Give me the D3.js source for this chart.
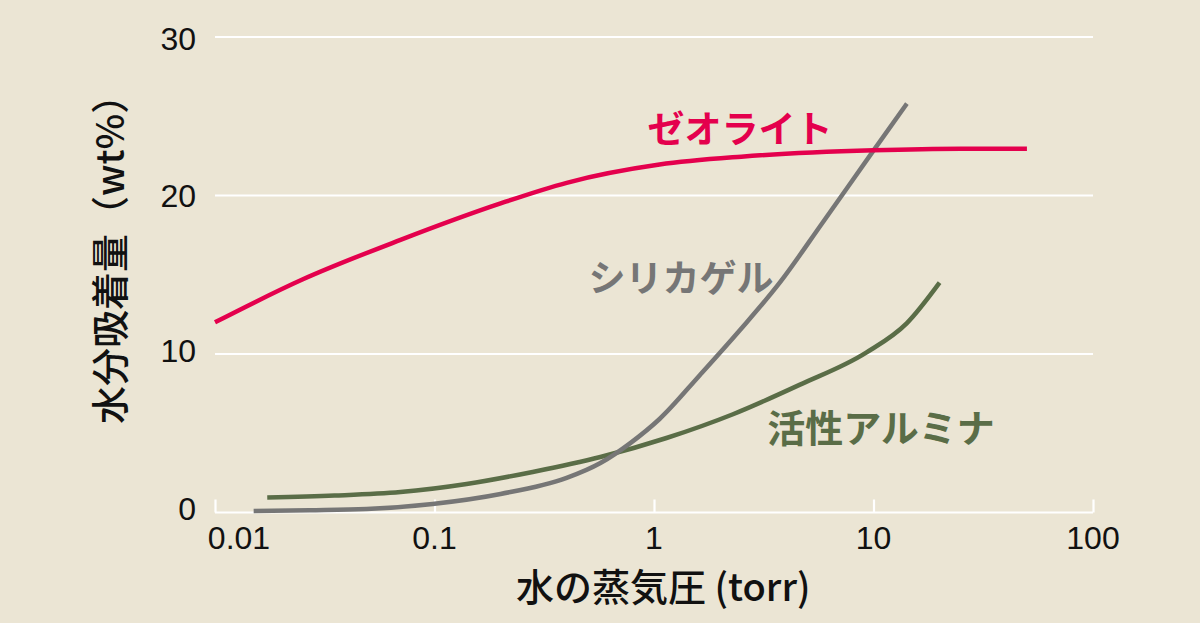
<!DOCTYPE html>
<html>
<head>
<meta charset="utf-8">
<script src="https://cdn.jsdelivr.net/npm/d3@7"></script>
<style>
  html, body { margin: 0; padding: 0; background: #ebe5d4; }
  svg { display: block; }
</style>
</head>
<body>
<svg id="chart" width="1200" height="623"></svg>
<script>
// ---- data ----
const seriesNames = ["ゼオライト", "シリカゲル", "活性アルミナ"];
const zeolitePressure = [0.01, 0.025, 0.07, 0.2, 0.4, 1.06, 2.5, 10, 25, 50];
const zeoliteValues   = [12.0, 14.7, 17.2, 19.5, 20.8, 21.95, 22.45, 22.85, 22.95, 22.95];
const silicaPressure  = [0.015, 0.027, 0.049, 0.098, 0.2, 0.4, 0.57, 0.78, 1.06, 1.62, 2.46, 3.74, 5.87, 9.9, 14.2];
const silicaValues    = [0.09, 0.14, 0.22, 0.54, 1.17, 2.18, 3.12, 4.38, 5.9, 8.68, 11.5, 14.5, 18.3, 22.75, 25.8];
const aluminaPressure = [0.0173, 0.035, 0.07, 0.14, 0.28, 0.57, 1.14, 2.29, 4.6, 9.3, 14.2, 20];
const aluminaValues   = [0.95, 1.07, 1.29, 1.8, 2.56, 3.5, 4.7, 6.2, 8.05, 10.1, 11.95, 14.5];
const xTicks = [0.01, 0.1, 1, 10, 100];
const xTickLabels = ["0.01", "0.1", "1", "10", "100"];
const yTicks = [0, 10, 20, 30];
const yTickLabels = ["0", "10", "20", "30"];
const xTitle = "水の蒸気圧 (torr)";
const yTitle = "水分吸着量（wt%）";

// ---- chart ----
const svg = d3.select("#chart");
const W = 1200, H = 623;
svg.append("rect").attr("width", W).attr("height", H).attr("fill", "#ebe5d4");

const x = d3.scaleLog().domain([0.01, 100]).range([215, 1093]);
const y = d3.scaleLinear().domain([0, 30]).range([512.5, 37]);

// gridlines
svg.append("g").selectAll("line").data(yTicks.filter(d => d > 0)).join("line")
  .attr("x1", x(0.01)).attr("x2", x(100))
  .attr("y1", d => y(d)).attr("y2", d => y(d))
  .attr("stroke", "#ffffff").attr("stroke-width", 2.2);

// x axis
const xAxis = d3.axisBottom(x).tickValues(xTicks).tickSize(-13).tickFormat("");
const gx = svg.append("g").attr("transform", `translate(0,${y(0)})`).call(xAxis);
gx.select(".domain").attr("stroke", "#ffffff").attr("stroke-width", 2.2)
  .attr("d", `M${x(0.01)},0H${x(100)}`);
gx.selectAll(".tick line").attr("stroke", "#ffffff").attr("stroke-width", 2.2);

svg.append("g").selectAll("text").data(xTicks).join("text")
  .attr("x", (d, i) => i === 0 ? x(d) + 24 : x(d))
  .attr("y", 549)
  .attr("text-anchor", "middle")
  .attr("font-family", "Liberation Sans, Arial, sans-serif")
  .attr("font-size", 32)
  .attr("fill", "#111")
  .text((d, i) => xTickLabels[i]);

// y tick labels
svg.append("g").selectAll("text").data(yTicks).join("text")
  .attr("x", 196)
  .attr("y", d => y(d) + 11 - (d === 0 ? 4 : d === 10 ? 3 : d === 30 ? -2 : 0))
  .attr("text-anchor", "end")
  .attr("font-family", "Liberation Sans, Arial, sans-serif")
  .attr("font-size", 32)
  .attr("fill", "#111")
  .text((d, i) => yTickLabels[i]);

// axis titles
svg.append("text")
  .attr("x", 516).attr("y", 601)
  .attr("font-family", "Noto Sans CJK JP, sans-serif")
  .attr("font-weight", 500)
  .attr("font-size", 38)
  .attr("fill", "#111")
  .text(xTitle);

svg.append("text")
  .attr("transform", "translate(124,424) rotate(-90)")
  .attr("font-family", "Noto Sans CJK JP, sans-serif")
  .attr("font-weight", 500)
  .attr("font-size", 38)
  .attr("fill", "#111")
  .text(yTitle);

// lines
const line = d3.line().x(d => x(d[0])).y(d => y(d[1])).curve(d3.curveMonotoneX);
const series = [
  { p: zeolitePressure, v: zeoliteValues, color: "#e4004d" },
  { p: silicaPressure,  v: silicaValues,  color: "#767676" },
  { p: aluminaPressure, v: aluminaValues, color: "#5a6d47" }
];
const drawOrder = [2, 1, 0];
drawOrder.forEach(i => {
  const s = series[i];
  svg.append("path")
    .datum(s.p.map((pp, k) => [pp, s.v[k]]))
    .attr("d", line)
    .attr("fill", "none")
    .attr("stroke", s.color)
    .attr("stroke-width", 4.5);
});

// series labels
const labelPos = [[740, 127], [681, 276], [881, 425]];
svg.append("g").selectAll("text").data(seriesNames).join("text")
  .attr("x", (d, i) => labelPos[i][0])
  .attr("y", (d, i) => labelPos[i][1])
  .attr("text-anchor", "middle")
  .attr("dominant-baseline", "central")
  .attr("font-family", "Noto Sans CJK JP, sans-serif")
  .attr("font-weight", 700)
  .attr("font-size", (d, i) => i === 2 ? 38 : 37)
  .attr("fill", (d, i) => series[i].color)
  .text(d => d);
</script>
</body>
</html>
